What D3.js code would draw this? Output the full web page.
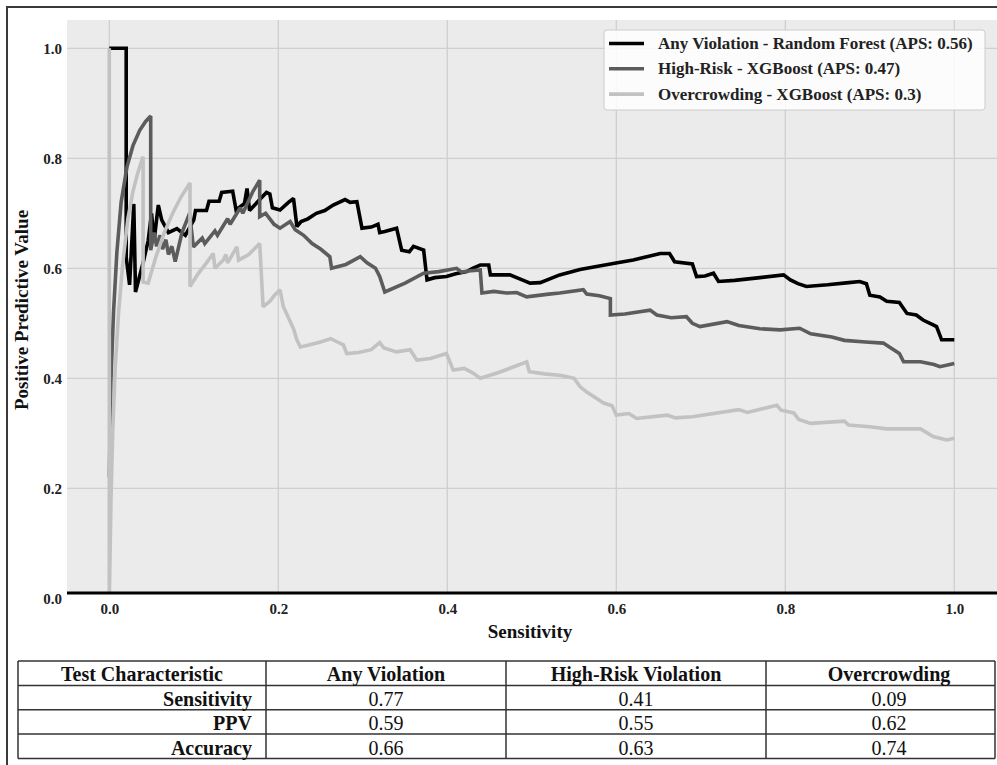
<!DOCTYPE html>
<html lang="en">
<head>
<meta charset="UTF-8">
<title>Precision-Recall Curves</title>
<script src="https://d3js.org/d3.v7.min.js"></script>
<style>
  body { margin: 0; background: #fff; }
  text { font-family: "Liberation Serif", "Times New Roman", serif; }
</style>
</head>
<body>
<div id="chart"></div>
<script>
// ---- data (sensitivity, ppv) ----
const anyViolation = [
  [0.000,1.000],[0.020,1.000],[0.020,0.620],[0.024,0.570],[0.029,0.717],[0.031,0.557],[0.040,0.610],
  [0.046,0.650],[0.050,0.700],[0.053,0.650],[0.058,0.715],[0.062,0.688],[0.070,0.665],[0.080,0.672],
  [0.090,0.660],[0.100,0.688],[0.102,0.705],[0.115,0.705],[0.118,0.722],[0.130,0.722],[0.133,0.738],
  [0.146,0.740],[0.150,0.706],[0.160,0.718],[0.163,0.745],[0.166,0.705],[0.178,0.725],[0.186,0.738],
  [0.190,0.735],[0.193,0.710],[0.202,0.706],[0.212,0.720],[0.218,0.727],[0.222,0.676],[0.227,0.685],
  [0.235,0.690],[0.245,0.700],[0.255,0.705],[0.265,0.715],[0.279,0.725],[0.285,0.720],[0.293,0.721],
  [0.299,0.673],[0.310,0.675],[0.318,0.680],[0.320,0.665],[0.326,0.667],[0.340,0.673],[0.346,0.633],
  [0.355,0.630],[0.360,0.640],[0.372,0.633],[0.376,0.579],[0.385,0.583],[0.399,0.585],[0.410,0.590],
  [0.423,0.594],[0.430,0.600],[0.439,0.606],[0.449,0.606],[0.451,0.588],[0.474,0.588],[0.490,0.578],
  [0.498,0.573],[0.510,0.574],[0.533,0.588],[0.557,0.598],[0.575,0.603],[0.598,0.609],[0.620,0.615],
  [0.652,0.627],[0.663,0.627],[0.669,0.612],[0.690,0.608],[0.695,0.585],[0.705,0.586],[0.715,0.591],
  [0.721,0.576],[0.740,0.578],[0.770,0.583],[0.798,0.588],[0.806,0.579],[0.815,0.572],[0.825,0.567],
  [0.850,0.570],[0.875,0.574],[0.888,0.576],[0.896,0.572],[0.900,0.551],[0.912,0.548],[0.920,0.540],
  [0.935,0.538],[0.944,0.518],[0.955,0.515],[0.963,0.506],[0.975,0.497],[0.979,0.494],[0.985,0.470],
  [1.000,0.470]
];
const highRisk = [
  [0.000,0.220],[0.002,0.400],[0.005,0.520],[0.009,0.630],[0.014,0.720],[0.021,0.785],[0.028,0.823],
  [0.036,0.851],[0.043,0.867],[0.049,0.877],[0.049,0.633],[0.053,0.665],[0.056,0.640],[0.060,0.660],
  [0.063,0.635],[0.067,0.652],[0.070,0.625],[0.074,0.640],[0.078,0.612],[0.086,0.665],[0.095,0.700],
  [0.0995,0.639],[0.110,0.655],[0.113,0.645],[0.125,0.668],[0.128,0.660],[0.140,0.690],[0.143,0.680],
  [0.155,0.710],[0.158,0.700],[0.170,0.740],[0.178,0.760],[0.178,0.694],[0.185,0.700],[0.190,0.690],
  [0.195,0.680],[0.202,0.673],[0.214,0.685],[0.220,0.670],[0.230,0.660],[0.240,0.645],[0.250,0.635],
  [0.261,0.621],[0.263,0.600],[0.280,0.607],[0.297,0.621],[0.305,0.610],[0.315,0.600],[0.320,0.585],
  [0.326,0.557],[0.350,0.573],[0.372,0.591],[0.390,0.594],[0.411,0.600],[0.417,0.593],[0.425,0.595],
  [0.439,0.597],[0.441,0.555],[0.455,0.558],[0.470,0.555],[0.482,0.556],[0.494,0.548],[0.520,0.553],
  [0.533,0.555],[0.561,0.561],[0.565,0.553],[0.580,0.550],[0.593,0.545],[0.593,0.515],[0.610,0.517],
  [0.640,0.524],[0.648,0.515],[0.665,0.510],[0.683,0.512],[0.690,0.500],[0.699,0.494],[0.731,0.503],
  [0.745,0.496],[0.770,0.490],[0.794,0.488],[0.817,0.491],[0.830,0.481],[0.855,0.475],[0.870,0.469],
  [0.895,0.466],[0.916,0.464],[0.925,0.455],[0.935,0.445],[0.940,0.430],[0.960,0.430],[0.976,0.425],
  [0.983,0.421],[1.000,0.427]
];
const overcrowding = [
  [0.000,1.000],[0.000,0.000],[0.002,0.180],[0.004,0.300],[0.007,0.420],[0.011,0.520],[0.016,0.610],
  [0.022,0.690],[0.028,0.740],[0.034,0.775],[0.040,0.803],[0.040,0.575],[0.046,0.573],[0.055,0.620],
  [0.065,0.665],[0.075,0.700],[0.085,0.730],[0.0955,0.755],[0.0955,0.567],[0.105,0.590],[0.115,0.610],
  [0.123,0.627],[0.125,0.600],[0.135,0.615],[0.138,0.625],[0.140,0.610],[0.151,0.639],[0.153,0.615],
  [0.165,0.625],[0.178,0.645],[0.182,0.530],[0.190,0.540],[0.195,0.550],[0.202,0.561],[0.206,0.530],
  [0.212,0.510],[0.218,0.490],[0.222,0.470],[0.226,0.457],[0.235,0.460],[0.250,0.466],[0.262,0.472],
  [0.270,0.466],[0.277,0.461],[0.281,0.445],[0.295,0.447],[0.310,0.452],[0.320,0.465],[0.325,0.455],
  [0.340,0.448],[0.356,0.452],[0.364,0.433],[0.380,0.436],[0.399,0.445],[0.407,0.415],[0.420,0.418],
  [0.430,0.410],[0.439,0.400],[0.460,0.410],[0.494,0.430],[0.497,0.412],[0.515,0.408],[0.535,0.405],
  [0.550,0.400],[0.557,0.385],[0.565,0.375],[0.575,0.365],[0.585,0.355],[0.595,0.350],[0.600,0.333],
  [0.615,0.336],[0.624,0.327],[0.660,0.333],[0.670,0.328],[0.690,0.330],[0.745,0.343],[0.755,0.338],
  [0.790,0.351],[0.795,0.342],[0.810,0.337],[0.816,0.325],[0.830,0.318],[0.870,0.322],[0.875,0.315],
  [0.900,0.312],[0.920,0.308],[0.960,0.308],[0.975,0.294],[0.991,0.288],[1.000,0.291]
];
const seriesNames = [
  "Any Violation - Random Forest (APS: 0.56)",
  "High-Risk - XGBoost (APS: 0.47)",
  "Overcrowding - XGBoost (APS: 0.3)"
];
const xTicks = [0, 0.2, 0.4, 0.6, 0.8, 1.0];
const yTicks = [0, 0.2, 0.4, 0.6, 0.8, 1.0];

// table
const tableHeader = ["Test Characteristic", "Any Violation", "High-Risk Violation", "Overcrowding"];
const rowLabels = ["Sensitivity", "PPV", "Accuracy"];
const anyVals = ["0.77", "0.59", "0.66"];
const highRiskVals = ["0.41", "0.55", "0.63"];
const overcrowdVals = ["0.09", "0.62", "0.74"];

// ---- layout ----
const W = 997, H = 765;
const colors = ["#000000", "#5c5c5c", "#c2c2c2"];
const plot = { left: 67, right: 997, top: 20, bottom: 593 };

const svg = d3.select("#chart").append("svg")
  .attr("width", W).attr("height", H);

svg.append("rect").attr("width", W).attr("height", H).attr("fill", "#fff");

// frame
svg.append("path")
  .attr("d", `M7,${H} L7,7 L${W},7`)
  .attr("fill", "none").attr("stroke", "#3a3a3a").attr("stroke-width", 2);

const x = d3.scaleLinear().domain([0, 1]).range([109.3, 954.3]);
const y = d3.scaleLinear().domain([0, 1]).range([598.3, 48.3]);

svg.append("defs").append("clipPath").attr("id", "clip")
  .append("rect")
  .attr("x", plot.left).attr("y", plot.top)
  .attr("width", plot.right - plot.left).attr("height", plot.bottom - plot.top);

svg.append("rect")
  .attr("x", plot.left).attr("y", plot.top)
  .attr("width", plot.right - plot.left).attr("height", plot.bottom - plot.top)
  .attr("fill", "#ebebeb");

const grid = svg.append("g").attr("clip-path", "url(#clip)");
grid.selectAll(".gx").data(xTicks).enter().append("line")
  .attr("x1", d => x(d)).attr("x2", d => x(d))
  .attr("y1", plot.top).attr("y2", plot.bottom)
  .attr("stroke", "#cfcfcf").attr("stroke-width", 1.3);
grid.selectAll(".gy").data(yTicks).enter().append("line")
  .attr("y1", d => y(d)).attr("y2", d => y(d))
  .attr("x1", plot.left).attr("x2", plot.right)
  .attr("stroke", "#cfcfcf").attr("stroke-width", 1.3);

// curves
const line = d3.line().x(d => x(d[0])).y(d => y(d[1]));
const curves = svg.append("g").attr("clip-path", "url(#clip)");
[anyViolation, highRisk, overcrowding].forEach((s, i) => {
  curves.append("path")
    .attr("d", line(s))
    .attr("fill", "none")
    .attr("stroke", colors[i])
    .attr("stroke-width", 3.6)
    .attr("stroke-linejoin", "miter")
    .attr("stroke-miterlimit", 2);
});

// bottom spine
svg.append("line")
  .attr("x1", plot.left).attr("x2", plot.right)
  .attr("y1", plot.bottom).attr("y2", plot.bottom)
  .attr("stroke", "#000").attr("stroke-width", 3);

// axes (labels only)
const fmt = d3.format(".1f");
const yAxis = svg.append("g")
  .attr("transform", `translate(${plot.left},0)`)
  .call(d3.axisLeft(y).tickValues(yTicks).tickFormat(fmt).tickSize(0).tickPadding(5));
const xAxis = svg.append("g")
  .attr("transform", `translate(0,${plot.bottom})`)
  .call(d3.axisBottom(x).tickValues(xTicks).tickFormat(fmt).tickSize(0).tickPadding(10));
[xAxis, yAxis].forEach(g => {
  g.select(".domain").remove();
  g.selectAll("text")
    .style("font-family", '"Liberation Serif", serif')
    .style("font-size", "15px")
    .style("font-weight", "bold")
    .attr("fill", "#222");
});

svg.append("text")
  .attr("x", 530).attr("y", 638)
  .attr("text-anchor", "middle")
  .style("font-size", "19px").style("font-weight", "bold")
  .attr("fill", "#111")
  .text("Sensitivity");

svg.append("text")
  .attr("transform", "translate(28,310) rotate(-90)")
  .attr("text-anchor", "middle")
  .style("font-size", "19px").style("font-weight", "bold")
  .attr("fill", "#111")
  .text("Positive Predictive Value");

// legend
const legend = svg.append("g");
legend.append("rect")
  .attr("x", 604).attr("y", 30).attr("width", 381).attr("height", 80)
  .attr("rx", 3)
  .attr("fill", "#fff").attr("fill-opacity", 0.85)
  .attr("stroke", "#cccccc").attr("stroke-width", 1);
seriesNames.forEach((name, i) => {
  const ly = 43.5 + i * 25.3;
  legend.append("line")
    .attr("x1", 609).attr("x2", 644).attr("y1", ly).attr("y2", ly)
    .attr("stroke", colors[i]).attr("stroke-width", 3.6);
  legend.append("text")
    .attr("x", 658).attr("y", ly + 5.5)
    .style("font-size", "17px").style("font-weight", "bold")
    .attr("fill", "#222")
    .text(name);
});

// table
const colEdges = [18, 266, 506, 766, 1012];
const rowEdges = [661, 685.4, 709.7, 734.1, 758.5];
const table = svg.append("g");
const tStroke = "#333";
rowEdges.forEach(ry => {
  table.append("line").attr("x1", colEdges[0]).attr("x2", 995)
    .attr("y1", ry).attr("y2", ry)
    .attr("stroke", tStroke).attr("stroke-width", 1.5);
});
colEdges.slice(0, 4).concat([995]).forEach(cx => {
  table.append("line").attr("x1", cx).attr("x2", cx)
    .attr("y1", rowEdges[0]).attr("y2", rowEdges[4])
    .attr("stroke", tStroke).attr("stroke-width", 1.5);
});
tableHeader.forEach((h, j) => {
  table.append("text")
    .attr("x", (colEdges[j] + colEdges[j + 1]) / 2)
    .attr("y", rowEdges[1] - 4)
    .attr("text-anchor", "middle")
    .style("font-size", "20px").style("font-weight", "bold")
    .attr("fill", "#111")
    .text(h);
});
const colVals = [anyVals, highRiskVals, overcrowdVals];
rowLabels.forEach((lab, i) => {
  const by = rowEdges[i + 2] - 4;
  table.append("text")
    .attr("x", colEdges[1] - 14).attr("y", by)
    .attr("text-anchor", "end")
    .style("font-size", "20px").style("font-weight", "bold")
    .attr("fill", "#111")
    .text(lab);
  colVals.forEach((vals, j) => {
    table.append("text")
      .attr("x", (colEdges[j + 1] + colEdges[j + 2]) / 2)
      .attr("y", by)
      .attr("text-anchor", "middle")
      .style("font-size", "20px")
      .attr("fill", "#111")
      .text(vals[i]);
  });
});
</script>
</body>
</html>
